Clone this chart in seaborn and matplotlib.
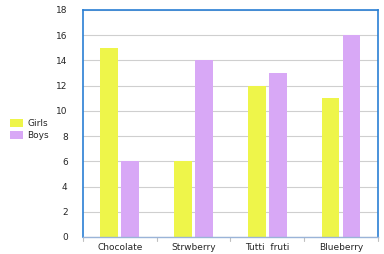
import matplotlib
matplotlib.use("Agg")
import matplotlib.pyplot as plt
import seaborn as sns
import pandas as pd
from matplotlib.patches import Patch

categories = ["Chocolate", "Strwberry", "Tutti  fruti", "Blueberry"]
girls = [15, 6, 12, 11]
boys = [6, 14, 13, 16]
series = ["Girls", "Boys"]
yticks = [0, 2, 4, 6, 8, 10, 12, 14, 16, 18]

df = pd.DataFrame({
    "flavor": categories * 2,
    "count": girls + boys,
    "who": ["Girls"] * 4 + ["Boys"] * 4,
})

colors = {"Girls": "#EEF54A", "Boys": "#D8A8F6"}

sns.set_style("white")
plt.rcParams["font.family"] = ["DejaVu Sans"]

fig = plt.figure(figsize=(3.84, 2.54), dpi=100)
ax = fig.add_axes([0.216, 0.067, 0.768, 0.894])

sns.barplot(data=df, x="flavor", y="count", hue="who", hue_order=series,
            palette=colors, width=0.57, gap=0.15, ax=ax, legend=False,
            saturation=1, linewidth=0)

ax.set_xlim(-0.5, 3.5)
ax.set_ylim(0, 18)
ax.set_yticks(yticks)
ax.set_yticklabels([str(v) for v in yticks], fontsize=6.5)
ax.yaxis.grid(True, color="#cfcfcf", lw=0.8)
ax.set_axisbelow(True)
ax.set_xlabel("")
ax.set_ylabel("")
ax.set_xticks([0, 1, 2, 3])
ax.set_xticklabels(categories, fontsize=6.5)
ax.tick_params(axis="x", length=0, pad=4)
ax.tick_params(axis="y", length=3, color="#b0b0b0", pad=8)
for pos in [-0.5, 0.5, 1.5, 2.5, 3.5]:
    ax.plot([pos, pos], [0, -0.35], color="#c0c0c0", lw=0.8, clip_on=False)

for s in ["left", "top", "right"]:
    ax.spines[s].set_visible(True)
    ax.spines[s].set_color("#2a7fd4")
    ax.spines[s].set_linewidth(1.2)
ax.spines["bottom"].set_color("#9ab4d8")
ax.spines["bottom"].set_linewidth(1.0)

handles = [Patch(facecolor=colors[s], edgecolor="none", label=s) for s in series]
fig.legend(handles=handles, loc="center left", bbox_to_anchor=(0.01, 0.49),
           frameon=False, fontsize=6.5, handlelength=1.4, handleheight=0.9,
           handletextpad=0.5, labelspacing=0.3, borderaxespad=0.3)

fig.savefig("out.png", dpi=100)
